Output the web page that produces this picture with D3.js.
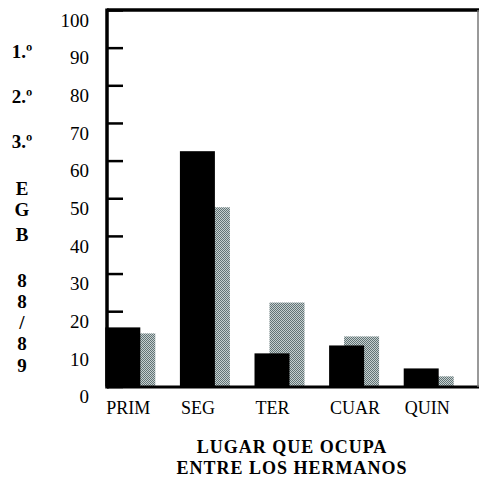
<!DOCTYPE html>
<html>
<head>
<meta charset="utf-8">
<script src="https://cdn.jsdelivr.net/npm/d3@7"></script>
<style>
  html, body { margin: 0; padding: 0; background: #fff; }
  svg { display: block; }
</style>
</head>
<body>
<script>
// ---- data ----
const categories = ["PRIM", "SEG", "TER", "CUAR", "QUIN"];
const seriesBlack = [15.7, 62.5, 8.8, 10.9, 4.8];
const seriesGray  = [14.1, 47.6, 22.3, 13.3, 2.7];
const yTicks = [0, 10, 20, 30, 40, 50, 60, 70, 80, 90, 100];
const sideLabels = ["1.\u00BA", "2.\u00BA", "3.\u00BA", "E", "G", "B", "8", "8", "/", "8", "9"];
const titleLines = ["LUGAR QUE OCUPA", "ENTRE LOS HERMANOS"];

// ---- layout ----
const W = 479, H = 479;
const frame = { left: 107, top: 10, right: 478, bottom: 387 };
const sideY = [58, 103, 148, 195, 216, 241, 287, 308, 329, 350, 372];
const serif = "'Liberation Serif', 'Times New Roman', serif";

const svg = d3.select("body").append("svg")
  .attr("width", W).attr("height", H);

// halftone pattern for gray series
const defs = svg.append("defs");
const pat = defs.append("pattern")
  .attr("id", "dots").attr("width", 2).attr("height", 2)
  .attr("patternUnits", "userSpaceOnUse");
pat.append("rect").attr("width", 2).attr("height", 2).attr("fill", "#c6d0d0");
pat.append("rect").attr("width", 1).attr("height", 1).attr("fill", "#627375");
pat.append("rect").attr("x", 1).attr("y", 1).attr("width", 1).attr("height", 1).attr("fill", "#627375");

const y = d3.scaleLinear().domain([0, 100]).range([386.5, 10]);
const x = d3.scaleBand().domain(categories).range([93, 466])
  .paddingInner(0.33).paddingOuter(0.165);
const bw = x.bandwidth();
const barW = bw * 0.7;

// gray bars (behind)
svg.append("g").selectAll("rect").data(categories).join("rect")
  .attr("x", (d) => x(d) + bw * 0.3)
  .attr("y", (d, i) => y(seriesGray[i]))
  .attr("width", barW)
  .attr("height", (d, i) => y(0) - y(seriesGray[i]))
  .attr("fill", "url(#dots)");

// black bars
svg.append("g").selectAll("rect").data(categories).join("rect")
  .attr("x", (d) => x(d))
  .attr("y", (d, i) => y(seriesBlack[i]))
  .attr("width", barW)
  .attr("height", (d, i) => y(0) - y(seriesBlack[i]))
  .attr("fill", "#000");

// y axis (ticks inside, labels outside)
const yAxis = d3.axisLeft(y).tickValues(yTicks).tickSizeInner(-16).tickSizeOuter(0)
  .tickPadding(18).tickFormat(d3.format("d"));
const gy = svg.append("g").attr("transform", `translate(${frame.left},0)`).call(yAxis);
gy.select(".domain").remove();
gy.selectAll(".tick line").attr("stroke", "#000").attr("stroke-width", 2.5);
gy.selectAll(".tick text")
  .attr("dy", "0.86em")
  .attr("font-family", serif)
  .attr("font-size", 19)
  .attr("fill", "#000");

// frame
svg.append("line").attr("x1", frame.left).attr("x2", frame.right + 1)
  .attr("y1", frame.top).attr("y2", frame.top)
  .attr("stroke", "#000").attr("stroke-width", 3.5);
svg.append("line").attr("x1", frame.left).attr("x2", frame.left)
  .attr("y1", frame.top - 1.5).attr("y2", frame.bottom + 1.5)
  .attr("stroke", "#000").attr("stroke-width", 3.5);
svg.append("line").attr("x1", frame.left).attr("x2", frame.right + 1)
  .attr("y1", frame.bottom).attr("y2", frame.bottom)
  .attr("stroke", "#000").attr("stroke-width", 3);
svg.append("line").attr("x1", frame.right).attr("x2", frame.right)
  .attr("y1", frame.top).attr("y2", frame.bottom)
  .attr("stroke", "#777").attr("stroke-width", 1.5);

// category labels
svg.append("g").selectAll("text").data(categories).join("text")
  .attr("x", (d) => x(d) + 1)
  .attr("y", 414)
  .attr("font-family", serif)
  .attr("font-size", 18)
  .attr("fill", "#000")
  .text((d) => d);

// side labels
svg.append("g").selectAll("text").data(sideLabels).join("text")
  .attr("x", 22)
  .attr("y", (d, i) => sideY[i])
  .attr("text-anchor", "middle")
  .attr("font-family", serif)
  .attr("font-weight", "bold")
  .attr("font-size", 19)
  .attr("fill", "#000")
  .text((d) => d);

// axis title
svg.append("g").selectAll("text").data(titleLines).join("text")
  .attr("x", 292)
  .attr("y", (d, i) => 453 + i * 21)
  .attr("text-anchor", "middle")
  .attr("font-family", serif)
  .attr("font-weight", "bold")
  .attr("font-size", 18)
  .attr("letter-spacing", 1)
  .attr("fill", "#000")
  .text((d) => d);
</script>
</body>
</html>
